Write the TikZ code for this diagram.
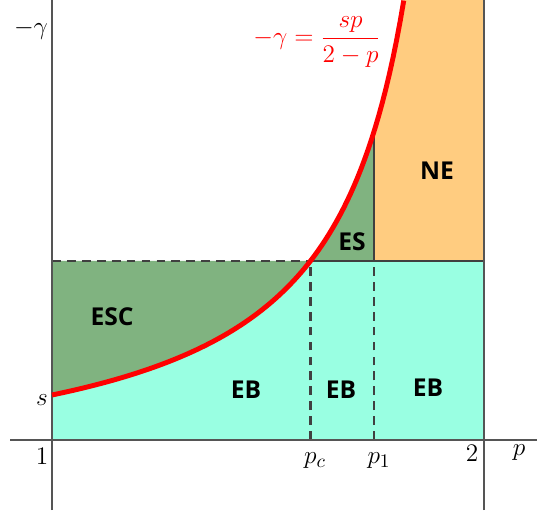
\documentclass[tikz,border=0pt]{standalone}
\usepackage{amsmath,amssymb}
\usepackage{fontspec}
\newfontfamily\regionfont{Open Sans}
\usetikzlibrary{calc}

\definecolor{mintfill}{HTML}{99FFE2}
\definecolor{greenfill}{HTML}{80B380}
\definecolor{orangefill}{HTML}{FFCC80}
\definecolor{axisgray}{HTML}{555555}

\tikzset{
  axisline/.style={line width=1.3pt, axisgray},
  borderline/.style={line width=1.1pt, black!75},
  guideline/.style={line width=1.2pt, black!75, dash pattern=on 5pt off 3.5pt},
  region/.style={font=\regionfont\bfseries\fontsize{14}{16}\selectfont},
  ticklabel/.style={font=\fontsize{15}{17}\selectfont}
}

\begin{document}
\begin{tikzpicture}[x=0.02cm, y=0.02cm]
  \useasboundingbox (0,0) rectangle (537,510);
  % Giunti di riferimento (p=1, p_c, p_1, p=2)
  \coordinate (O)   at (52,70);
  \coordinate (Pc)  at (310.5,70);
  \coordinate (P1)  at (374,70);
  \coordinate (P2)  at (484,70);
  \coordinate (Pch) at (310.5,249);
  \coordinate (P1h) at (374,249);
  \coordinate (P2h) at (484,249);
  \coordinate (Oh)  at (52,249);
  \coordinate (P1c) at (374,378);

  % Regione EB
  \fill[mintfill] (O) rectangle (P2h);
  % Regioni ESC ed ES
  \fill[greenfill] plot[domain=1:1.7454, samples=60]
      ({52+432*(\x-1)}, {70+45*\x/(2-\x)}) -- (P1h) -- (Oh) -- cycle;
  % Regione NE
  \fill[orangefill] (P1h) -- (P1c)
      -- plot[domain=1.7454:1.8145, samples=20] ({52+432*(\x-1)}, {70+45*\x/(2-\x)})
      -- (484,510) -- (P2h) -- cycle;

  % Linee di separazione
  \draw[guideline] (Oh) -- (Pch);
  \draw[borderline] (Pch) -- (P2h);
  \draw[guideline] (Pc) -- (Pch);
  \draw[guideline] (P1) -- (P1h);
  \draw[borderline] (P1h) -- (P1c);

  % Assi
  \draw[axisline] (10,70) -- (537,70);
  \draw[axisline] (52,0) -- (52,510);
  \draw[axisline] (484,0) -- (484,510);

  % Curva -gamma = sp/(2-p)
  \draw[red, line width=2.8pt] plot[domain=1:1.8145, samples=100]
      ({52+432*(\x-1)}, {70+45*\x/(2-\x)});

  % Etichette
  \node[ticklabel] (gam) at (31,480) {$-\gamma$};
  \node[ticklabel] (s) at (42,110) {$s$};
  \node[ticklabel] (one) at (42,54) {$1$};
  \node[ticklabel] (two) at (472,57) {$2$};
  \node[ticklabel] (p) at (519,57) {$p$};
  \node[ticklabel] (pc) at (315,49) {$p_c$};
  \node[ticklabel] (p1) at (379,49) {$p_1$};
  \node[ticklabel, red] (eq) at (317,468) {$-\gamma = \dfrac{sp}{2-p}$};

  \node[region] (esc) at (112,193) {ESC};
  \node[region] (eba) at (246,120) {EB};
  \node[region] (ebb) at (341,120) {EB};
  \node[region] (ebc) at (428,122) {EB};
  \node[region] (es) at (352,268) {ES};
  \node[region] (ne) at (437,339) {NE};
\end{tikzpicture}
\end{document}
